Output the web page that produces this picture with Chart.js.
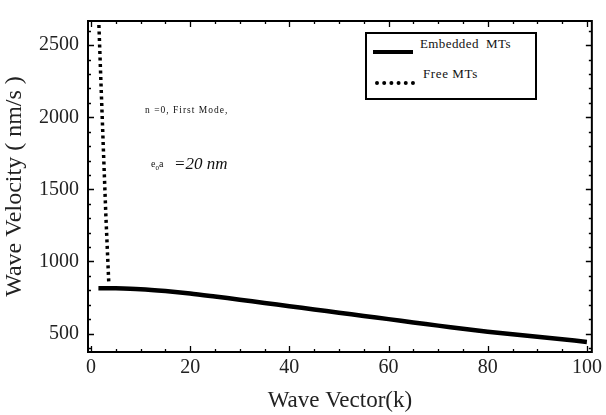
<!DOCTYPE html>
<html>
<head>
<meta charset="utf-8">
<script src="https://cdn.jsdelivr.net/npm/chart.js@4"></script>
<style>
  html, body { margin: 0; padding: 0; background: #fff; }
  #wrap { position: relative; width: 606px; height: 415px; }
  canvas { position: absolute; left: 0; top: 0; }
  .ann { position: absolute; font-family: "Liberation Serif", "DejaVu Serif", serif; color: #111; white-space: nowrap; }
  #legend { position: absolute; left: 365px; top: 32px; width: 168px; height: 64px; border: 2px solid #000; background: #fff; }
  .lg-line { position: absolute; }
</style>
</head>
<body>
<div id="wrap">
  <canvas id="c" width="606" height="415"></canvas>
  <div class="ann" style="left:145px; top:105px; font-size:9.5px; letter-spacing:1px;">n =0, First Mode,</div>
  <div class="ann" style="left:151px; top:158px; font-size:10px;">e<sub style="font-size:7px;">0</sub>a</div>
  <div class="ann" style="left:174px; top:154px; font-size:17px; font-style:italic;">=20 nm</div>
  <div id="legend">
    <div class="lg-line" style="left:6px; top:16px; width:40px; height:0; border-top:4px solid #000;"></div>
    <div class="ann" style="left:53px; top:2px; font-size:13px; letter-spacing:0.4px;">Embedded&nbsp; MTs</div>
    <div class="lg-line" style="left:8px; top:47px; width:40px; height:0; border-top:4px dotted #000;"></div>
    <div class="ann" style="left:56px; top:32px; font-size:13px; letter-spacing:0.6px;">Free MTs</div>
  </div>
</div>
<script>
// ---- data ----
const embeddedK      = [1.5, 5, 10, 15, 20, 25, 30, 35, 40, 45, 50, 55, 60, 65, 70, 75, 80, 85, 90, 95, 100];
const embeddedValues = [815, 814, 808, 795, 778, 757, 735, 712, 690, 667, 645, 622, 600, 577, 555, 533, 513, 495, 478, 460, 442];
const freeK          = [1.6, 2.0, 2.5, 3.0, 3.6];
const freeValues     = [2640, 2250, 1780, 1320, 845];
const xTickValues    = [0, 20, 40, 60, 80, 100];
const yTickValues    = [500, 1000, 1500, 2000, 2500];
const xMinorStep = 5;
const yMinorStep = 100;

const serif = '"Liberation Serif", "DejaVu Serif", serif';

const frameTicks = {
  id: 'frameTicks',
  afterDatasetsDraw(chart) {
    const { ctx, chartArea: a, scales: { x, y } } = chart;
    ctx.save();
    ctx.strokeStyle = '#000';
    ctx.lineWidth = 2;
    ctx.strokeRect(a.left, a.top, a.right - a.left, a.bottom - a.top);
    ctx.lineWidth = 1.3;
    ctx.beginPath();
    const xmin = Math.ceil(x.min / xMinorStep) * xMinorStep;
    for (let v = xmin; v <= x.max; v += xMinorStep) {
      const px = Math.round(x.getPixelForValue(v)) + 0.5;
      const major = xTickValues.includes(v);
      const len = major ? 6 : 3;
      ctx.moveTo(px, a.bottom); ctx.lineTo(px, a.bottom - len);
      ctx.moveTo(px, a.top); ctx.lineTo(px, a.top + len);
    }
    const ymin = Math.ceil(y.min / yMinorStep) * yMinorStep;
    for (let v = ymin; v <= y.max; v += yMinorStep) {
      const py = Math.round(y.getPixelForValue(v)) + 0.5;
      const major = yTickValues.includes(v);
      const len = major ? 6 : 3;
      ctx.moveTo(a.left, py); ctx.lineTo(a.left + len, py);
      ctx.moveTo(a.right, py); ctx.lineTo(a.right - len, py);
    }
    ctx.stroke();
    ctx.restore();
  }
};

new Chart(document.getElementById('c'), {
  type: 'line',
  data: {
    datasets: [
      {
        label: 'Embedded MTs',
        data: embeddedK.map((k, i) => ({ x: k, y: embeddedValues[i] })),
        borderColor: '#000',
        borderWidth: 4.5,
        pointRadius: 0,
        tension: 0.3,
        fill: false
      },
      {
        label: 'Free MTs',
        data: freeK.map((k, i) => ({ x: k, y: freeValues[i] })),
        borderColor: '#000',
        borderWidth: 3.5,
        borderDash: [3, 3.5],
        borderCapStyle: 'butt',
        pointRadius: 0,
        tension: 0,
        fill: false
      }
    ]
  },
  options: {
    responsive: false,
    animation: false,
    events: [],
    layout: { padding: { top: 11, right: 11, left: 0, bottom: 0 } },
    plugins: { legend: { display: false }, tooltip: { enabled: false } },
    scales: {
      x: {
        type: 'linear',
        min: -0.6,
        max: 101,
        afterBuildTicks(scale) { scale.ticks = xTickValues.map(v => ({ value: v })); },
        afterFit(scale) { scale.height = 63; },
        grid: { display: false, drawTicks: false },
        border: { display: false },
        ticks: {
          color: '#222',
          font: { family: serif, size: 20 },
          padding: 4,
          maxRotation: 0,
          autoSkip: false,
          callback: v => String(v)
        },
        title: {
          display: true,
          text: 'Wave Vector(k)',
          color: '#222',
          font: { family: serif, size: 23 },
          padding: { top: 0, bottom: 0 }
        }
      },
      y: {
        type: 'linear',
        min: 372,
        max: 2668,
        afterBuildTicks(scale) { scale.ticks = yTickValues.map(v => ({ value: v })); },
        afterFit(scale) { scale.width = 88; },
        grid: { display: false, drawTicks: false },
        border: { display: false },
        ticks: {
          color: '#222',
          font: { family: serif, size: 20 },
          padding: 9,
          autoSkip: false,
          callback: v => String(v)
        },
        title: {
          display: true,
          text: 'Wave Velocity ( nm/s )',
          color: '#222',
          font: { family: serif, size: 24 },
          padding: { top: 0, bottom: 2 }
        }
      }
    }
  },
  plugins: [frameTicks]
});
</script>
</body>
</html>
